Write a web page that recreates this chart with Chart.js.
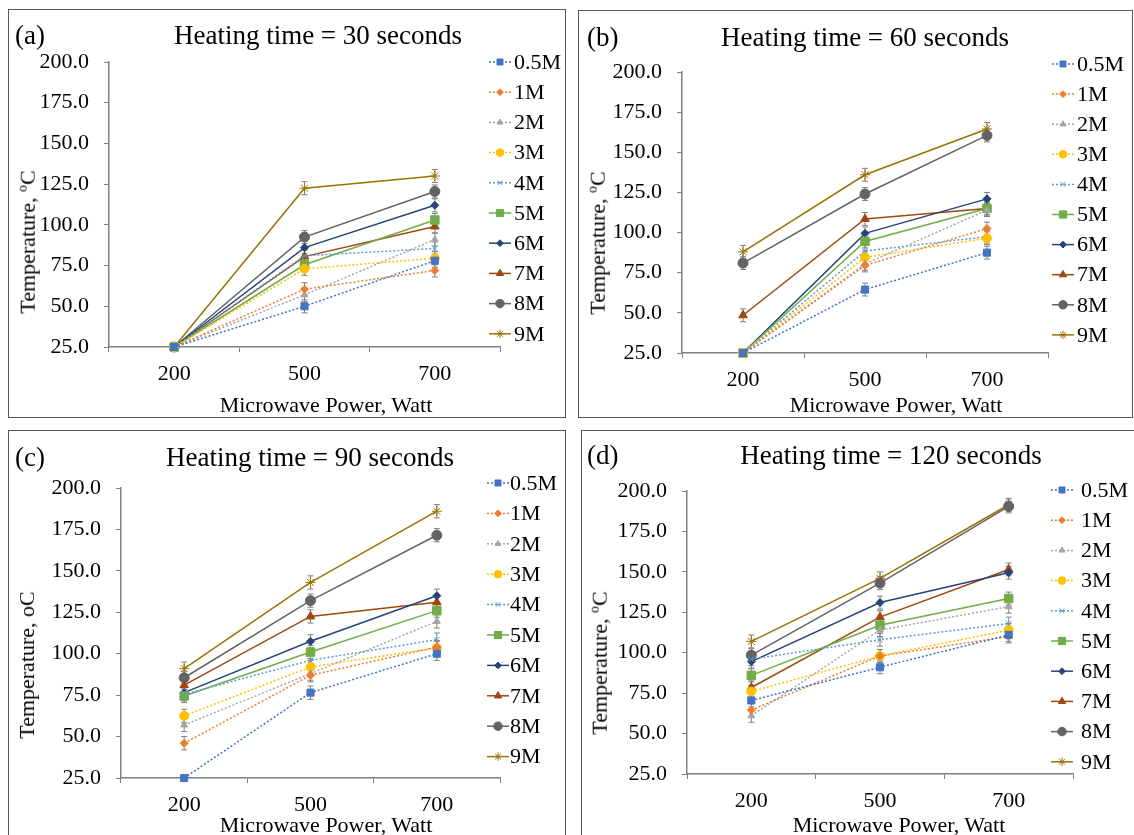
<!DOCTYPE html>
<html>
<head>
<meta charset="utf-8">
<title>Temperature vs microwave power</title>
<script src="https://cdn.jsdelivr.net/npm/chart.js@4.4.1/dist/chart.umd.min.js"></script>
<style>
    body { margin: 0; background: #fff; width: 1134px; height: 835px; overflow: hidden; position: relative;
           font-family: 'Liberation Serif', 'Times New Roman', serif; color: #000; }
    .panel { position: absolute; border: 1.5px solid #595959; box-sizing: border-box; }
    canvas.layer { position: absolute; left: 0; top: 0; }
    .txt { position: absolute; white-space: nowrap; line-height: 1; transform: translate(-50%, -50%); }
    .tag { position: absolute; white-space: nowrap; line-height: 1; font-size: 27px; transform: translateY(-50%); }
    .ttl { font-size: 27px; }
    .axt { font-size: 22px; }
    .yt { transform: translate(-50%, -50%) rotate(-90deg); }
    sup { font-size: 62%; vertical-align: 0.55em; }
</style>
</head>
<body>
<div id="root"></div>
<script>
// categorias del eje x y series
const powerLabels = ['200', '500', '700'];
const seriesLabels = ['0.5M', '1M', '2M', '3M', '4M', '5M', '6M', '7M', '8M', '9M'];

const temp30s = [
    [25, 50, 78], [25, 60.5, 72], [25, 57, 91], [25, 73, 79.5], [25, 81, 85.5],
    [25, 75.5, 103], [25, 86, 112], [25, 80.5, 99], [25, 92.5, 120.5], [25, 122.5, 130]
];
const temp60s = [
    [25, 64.5, 87.5], [25, 79.5, 102.5], [25, 80.5, 114], [25, 84.5, 96.5], [25, 88.5, 97.5],
    [25, 94.5, 115], [25, 99.5, 121], [48.5, 108.5, 115], [81, 124, 160.5], [88, 136, 164.5]
];
const temp90s = [
    [25, 76.5, 100], [46, 87, 104], [57, 88, 119.5], [62.5, 92, 103.5], [75.5, 96, 108.5],
    [74.5, 101, 126], [76.5, 107.5, 135], [81, 122.5, 131], [85.5, 132, 171.5], [91, 143, 186]
];
const temp120s = [
    [70.5, 91, 111], [64.5, 98, 110], [61, 114, 128.5], [76, 98, 114], [96, 108, 118],
    [86, 117, 133.5], [94.5, 131, 149.5], [78.5, 122, 151.5], [98.5, 143, 190.5], [107, 146, 191.5]
];

const ERR_BAR = 4;      // +/- barra de error
const BASE_TEMP = 25;   // sin barra de error en temperatura ambiente

// estilos tipo Excel
const SERIES_COLORS = ['#4472C4', '#ED7D31', '#A5A5A5', '#FFC000', '#5B9BD5',
                       '#70AD47', '#264478', '#9E480E', '#636363', '#997300'];
const MARKERS = ['rect', 'rectRot', 'triangle', 'circle', 'crossRot', 'rect', 'rectRot', 'triangle', 'circle', 'star'];
const MARKER_SIZES = [5, 4, 4, 4.5, 4, 6, 4, 5, 5, 5];
const AXIS_COLOR = '#7f7f7f';
const FONT_FAMILY = "'Liberation Serif', 'Times New Roman', serif";
const W = 1134, H = 835;
const Y_W = 80, X_H = 40;

const PANELS = [
    { tag: '(a)', title: 'Heating time = 30 seconds', data: temp30s, degree: true,
      box: [8, 9, 566, 418], area: [109, 62, 500, 347], titleAt: [318, 35], tagAt: [15, 35],
      yTitleAt: [27, 242], xTitleAt: [326, 405], legend: [500, 514, 62, 30.2] },
    { tag: '(b)', title: 'Heating time = 60 seconds', data: temp60s, degree: true,
      box: [578, 10, 1133, 418], area: [682, 72, 1048, 353], titleAt: [865, 37], tagAt: [587, 37],
      yTitleAt: [597, 243], xTitleAt: [896, 405], legend: [1063, 1077, 64, 30.1] },
    { tag: '(c)', title: 'Heating time = 90 seconds', data: temp90s, degree: false,
      box: [8, 430, 566, 860], area: [121, 488, 500, 778], titleAt: [310, 457], tagAt: [15, 457],
      yTitleAt: [27, 665], xTitleAt: [326, 825], legend: [498, 510, 483, 30.4] },
    { tag: '(d)', title: 'Heating time = 120 seconds', data: temp120s, degree: true,
      box: [581, 430, 1140, 860], area: [687, 491, 1073, 774], titleAt: [891, 455], tagAt: [587, 455],
      yTitleAt: [599, 663], xTitleAt: [899, 825], legend: [1062, 1081, 490, 30.2] }
];

const errorBarPlugin = {
    id: 'errorBars',
    beforeDatasetsDraw(chart) {
        const ctx = chart.ctx;
        const y = chart.scales.y;
        ctx.save();
        ctx.strokeStyle = '#808080';
        ctx.lineWidth = 1;
        chart.data.datasets.forEach((ds, i) => {
            chart.getDatasetMeta(i).data.forEach((pt, j) => {
                const v = ds.data[j];
                if (v <= BASE_TEMP) return;
                const top = y.getPixelForValue(v + ERR_BAR);
                const bot = y.getPixelForValue(v - ERR_BAR);
                ctx.beginPath();
                ctx.moveTo(pt.x, top); ctx.lineTo(pt.x, bot);
                ctx.moveTo(pt.x - 3, top); ctx.lineTo(pt.x + 3, top);
                ctx.moveTo(pt.x - 3, bot); ctx.lineTo(pt.x + 3, bot);
                ctx.stroke();
            });
        });
        ctx.restore();
    }
};

// leyenda con linea + marcador, como en Excel
const excelLegendPlugin = {
    id: 'excelLegend',
    afterDraw(chart, args, opts) {
        const ctx = chart.ctx;
        ctx.save();
        chart.data.datasets.forEach((ds, i) => {
            const y = opts.y + i * opts.step;
            ctx.strokeStyle = ds.borderColor;
            ctx.lineWidth = ds.borderWidth;
            ctx.setLineDash(ds.borderDash || []);
            ctx.beginPath();
            ctx.moveTo(opts.x - 11, y);
            ctx.lineTo(opts.x + 11, y);
            ctx.stroke();
            ctx.setLineDash([]);
            ctx.fillStyle = ds.pointBackgroundColor;
            ctx.strokeStyle = ds.pointBorderColor;
            ctx.lineWidth = 1;
            Chart.helpers.drawPoint(ctx, { pointStyle: ds.pointStyle, radius: ds.pointRadius * 0.85, rotation: 0, borderWidth: 1 }, opts.x, y);
            ctx.fillStyle = '#000';
            ctx.font = '22px ' + FONT_FAMILY;
            ctx.textAlign = 'left';
            ctx.textBaseline = 'middle';
            ctx.fillText(ds.label, opts.textX, y + 1);
        });
        ctx.restore();
    }
};

function addText(cls, html, x, y) {
    const d = document.createElement('div');
    d.className = cls;
    d.innerHTML = html;
    d.style.left = x + 'px';
    d.style.top = y + 'px';
    document.getElementById('root').appendChild(d);
}

function crearPanel(p) {
    const root = document.getElementById('root');
    const box = document.createElement('div');
    box.className = 'panel';
    box.style.left = p.box[0] + 'px';
    box.style.top = p.box[1] + 'px';
    box.style.width = (p.box[2] - p.box[0]) + 'px';
    box.style.height = (p.box[3] - p.box[1]) + 'px';
    root.appendChild(box);

    const canvas = document.createElement('canvas');
    canvas.className = 'layer';
    canvas.width = W;
    canvas.height = H;
    root.appendChild(canvas);

    addText('tag', p.tag, p.tagAt[0], p.tagAt[1]);
    addText('txt ttl', p.title, p.titleAt[0], p.titleAt[1]);
    addText('txt axt', 'Microwave Power, Watt', p.xTitleAt[0], p.xTitleAt[1]);
    addText('txt axt yt', p.degree ? 'Temperature, <sup>o</sup>C' : 'Temperature, oC', p.yTitleAt[0], p.yTitleAt[1]);

    const tickFont = { family: FONT_FAMILY, size: 22 };
    const gridOpts = { drawOnChartArea: false, drawTicks: true, tickLength: 5, color: AXIS_COLOR, lineWidth: 1 };

    new Chart(canvas, {
        type: 'line',
        data: {
            labels: powerLabels,
            datasets: seriesLabels.map((label, i) => ({
                label: label,
                data: p.data[i],
                borderColor: SERIES_COLORS[i],
                backgroundColor: SERIES_COLORS[i],
                pointBackgroundColor: SERIES_COLORS[i],
                pointBorderColor: SERIES_COLORS[i],
                pointBorderWidth: 1,
                borderWidth: 1.5,
                borderDash: i < 5 ? [2, 2] : [],
                pointStyle: MARKERS[i],
                pointRadius: MARKER_SIZES[i],
                pointHoverRadius: MARKER_SIZES[i],
                tension: 0,
                fill: false,
                clip: false
            }))
        },
        options: {
            responsive: false,
            animation: false,
            events: [],
            layout: {
                padding: { left: p.area[0] - Y_W, top: p.area[1], right: W - p.area[2], bottom: H - p.area[3] - X_H }
            },
            plugins: {
                legend: { display: false },
                tooltip: { enabled: false },
                excelLegend: { x: p.legend[0], textX: p.legend[1], y: p.legend[2], step: p.legend[3] }
            },
            scales: {
                x: {
                    type: 'category',
                    offset: true,
                    grid: { ...gridOpts, offset: true },
                    border: { color: AXIS_COLOR, width: 1.5 },
                    ticks: { font: tickFont, color: '#000', padding: 9, maxRotation: 0, autoSkip: false },
                    afterFit(scale) { scale.height = X_H; }
                },
                y: {
                    min: 25,
                    max: 200,
                    grid: gridOpts,
                    border: { color: AXIS_COLOR, width: 1.5 },
                    ticks: { stepSize: 25, font: tickFont, color: '#000', padding: 15, callback: v => v.toFixed(1) },
                    afterFit(scale) { scale.width = Y_W; }
                }
            }
        },
        plugins: [errorBarPlugin, excelLegendPlugin]
    });
}

PANELS.forEach(crearPanel);
</script>
</body>
</html>
